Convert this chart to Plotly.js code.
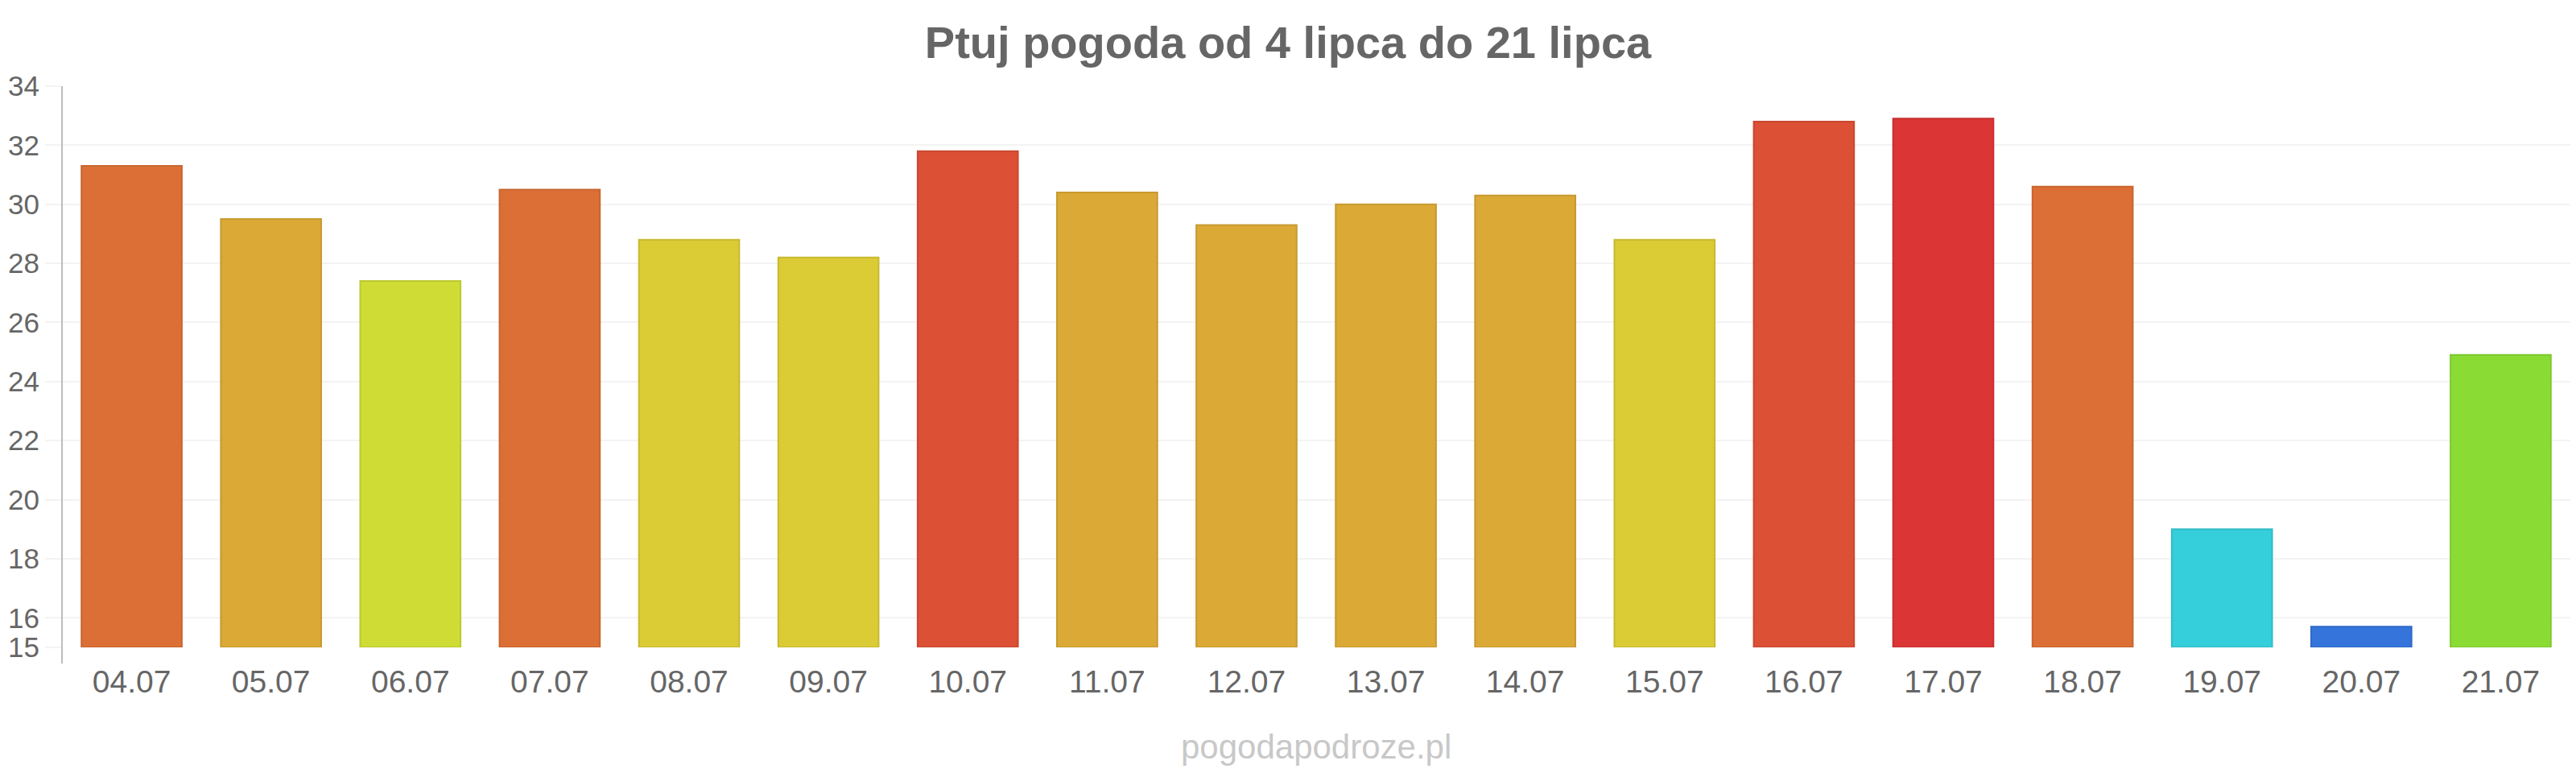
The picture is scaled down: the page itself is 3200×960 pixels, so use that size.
<!DOCTYPE html>
<html>
<head>
<meta charset="utf-8">
<script src="https://cdn.plot.ly/plotly-3.0.1.min.js"></script>
<style>
  html, body { margin: 0; padding: 0; background: #ffffff; }
  #chart { width: 3200px; height: 960px; }
</style>
</head>
<body>
<div id="chart"></div>
<script>
// Daily maximum temperature for Ptuj, 4–21 July
const days = ["04.07", "05.07", "06.07", "07.07", "08.07", "09.07", "10.07", "11.07", "12.07",
              "13.07", "14.07", "15.07", "16.07", "17.07", "18.07", "19.07", "20.07", "21.07"];
const temps = [31.3, 29.5, 27.4, 30.5, 28.8, 28.2, 31.8, 30.4, 29.3,
               30.0, 30.3, 28.8, 32.8, 32.9, 30.6, 19.0, 15.7, 24.9];
const barColors = ["#dc6f35", "#dba935", "#cfdc35", "#dc6f35", "#dbcb35", "#dbcb35", "#dc5035", "#dba935", "#dba935",
                   "#dba935", "#dba935", "#dbcb35", "#dc5035", "#db3535", "#dc6f35", "#35cedb", "#3575db", "#8adc35"];
const yTicks = [15, 16, 18, 20, 22, 24, 26, 28, 30, 32, 34];

// slightly darker outline for each bar
function darker(hex, f) {
  const n = parseInt(hex.slice(1), 16);
  const r = Math.round(((n >> 16) & 255) * f);
  const g = Math.round(((n >> 8) & 255) * f);
  const b = Math.round((n & 255) * f);
  return `rgb(${r},${g},${b})`;
}
const lineColors = barColors.map(c => darker(c, 0.91));

const font = "Liberation Sans, Arial, sans-serif";

// bars rise from the axis floor at 15 °C
const trace = {
  type: "bar",
  x: days,
  y: temps.map(t => t - 15),
  base: 15,
  marker: {
    color: barColors,
    line: { color: lineColors, width: 2 }
  },
  hoverinfo: "skip"
};

const layout = {
  width: 3200,
  height: 960,
  margin: { l: 77, r: 7, t: 107, b: 156 },
  paper_bgcolor: "#ffffff",
  plot_bgcolor: "#ffffff",
  bargap: 0.28,
  showlegend: false,
  font: { family: font, color: "#666666" },
  title: {
    text: "<b>Ptuj pogoda od 4 lipca do 21 lipca</b>",
    font: { family: font, size: 56, color: "#666666" },
    x: 0.5,
    xanchor: "center",
    yref: "container",
    y: 1 - 52 / 960,
    yanchor: "middle"
  },
  xaxis: {
    type: "category",
    showgrid: false,
    zeroline: false,
    showline: false,
    ticks: "outside",
    ticklen: 8,
    tickcolor: "rgba(0,0,0,0)",
    tickfont: { family: font, size: 39, color: "#666666" }
  },
  yaxis: {
    range: [15, 34],
    tickvals: yTicks,
    ticktext: yTicks.map(String),
    showgrid: true,
    gridcolor: "#f3f3f3",
    gridwidth: 2,
    zeroline: false,
    showline: false,
    ticks: "outside",
    ticklen: 20,
    tickwidth: 2,
    tickcolor: "#f3f3f3",
    tickfont: { family: font, size: 35, color: "#666666" },
    fixedrange: true
  },
  shapes: [
    {
      // vertical axis line, running a little below the floor
      type: "line",
      xref: "paper", yref: "paper",
      x0: 0, x1: 0,
      y0: -20 / 697, y1: 1,
      line: { color: "#bdbdbd", width: 2 }
    }
  ],
  annotations: [
    {
      text: "pogodapodroze.pl",
      xref: "paper", yref: "paper",
      x: 0.5, y: (803.7 - 927) / 696.7,
      xanchor: "center", yanchor: "middle",
      showarrow: false,
      font: { family: font, size: 42, color: "#c8c8c8" }
    }
  ]
};

Plotly.newPlot("chart", [trace], layout, { displayModeBar: false, staticPlot: true });
</script>
</body>
</html>
